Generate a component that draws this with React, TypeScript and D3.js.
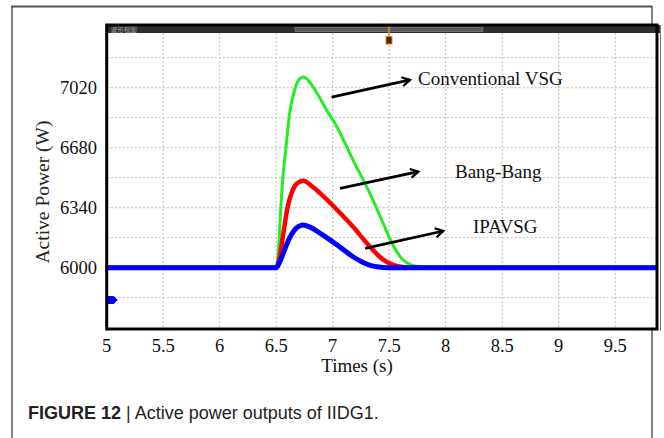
import * as d3 from "d3";

// data
const GREEN_T = [5.0, 6.4, 6.5, 6.52, 6.54, 6.56, 6.58, 6.62, 6.66, 6.7, 6.74, 6.78, 6.86, 6.94, 7.04, 7.18, 7.33, 7.46, 7.54, 7.62, 7.7, 7.8, 7.9, 9.87];
const GREEN_P = [6000, 6000, 6000, 6100, 6330, 6520, 6640, 6880, 7000, 7065, 7080, 7065, 6990, 6900, 6795, 6610, 6420, 6232, 6120, 6045, 6015, 6004, 6000, 6000];

const RED_T = [5.0, 6.4, 6.5, 6.53, 6.56, 6.6, 6.64, 6.68, 6.74, 6.8, 6.89, 7.04, 7.18, 7.33, 7.45, 7.54, 7.62, 7.7, 9.87];
const RED_P = [6000, 6000, 6000, 6060, 6180, 6340, 6430, 6475, 6493, 6470, 6421, 6327, 6232, 6119, 6044, 6015, 6004, 6000, 6000];

const BLUE_T = [5.0, 6.4, 6.5, 6.53, 6.56, 6.62, 6.68, 6.74, 6.8, 6.89, 7.04, 7.18, 7.3, 7.39, 7.5, 9.87];
const BLUE_P = [6000, 6000, 6000, 6030, 6078, 6170, 6225, 6242, 6230, 6195, 6129, 6062, 6021, 6005, 6000, 6000];

const X_TICKS = [5, 5.5, 6, 6.5, 7, 7.5, 8, 8.5, 9, 9.5];
const Y_TICKS = [6000, 6340, 6680, 7020];
const Y_GRID = [5830, 6000, 6170, 6340, 6510, 6680, 6850, 7020, 7190];

const LABELS = ["Conventional VSG", "Bang-Bang", "IPAVSG"];
// arrow start, arrow end, label anchor (t, P)
const ARROW_FROM = [[6.99, 6966], [7.065, 6450], [7.286, 6110]];
const ARROW_TO = [[7.684, 7064], [7.758, 6544], [7.979, 6208]];
const LABEL_AT = [[7.755, 7035], [8.082, 6511], [8.242, 6197]];

const W = 664;
const H = 438;
const left = 106.7, right = 657, top = 33, bottom = 329;

export default function App() {
    const x = d3.scaleLinear().domain([5, 5 + (right - left) / 113]).range([left, right]);
    const y = d3.scaleLinear().domain([6000, 7020]).range([267.7, 87.7]);

    const line = d3.line<number[]>()
        .x(d => x(d[0]))
        .y(d => y(d[1]))
        .curve(d3.curveMonotoneX);

    const zip = (ts: number[], ps: number[]) => ts.map((t, i) => [t, ps[i]]);

    const serif = "'Liberation Serif', 'Times New Roman', serif";
    const sans = "'Liberation Sans', Arial, sans-serif";

    const xGrid = d3.range(5.5, 9.9, 0.5);
    const markerY = y(5817);

    return (
        <svg width={W} height={H} style={{ position: "absolute", left: 0, top: 0, background: "#fff" }}>
            <defs>
                <clipPath id="plot">
                    <rect x={left} y={top} width={right - left} height={bottom - top} />
                </clipPath>
                <marker id="arr" viewBox="0 0 10 10" refX="8" refY="5" markerWidth="4" markerHeight="4" orient="auto" markerUnits="strokeWidth">
                    <path d="M1,1 L8,5 L1,9" fill="none" stroke="#000" strokeWidth="2" />
                </marker>
            </defs>

            {/* outer figure frame */}
            <line x1={11.5} y1={6.5} x2={652} y2={6.5} stroke="#555" strokeWidth={2} />
            <line x1={12} y1={6} x2={12} y2={H} stroke="#333" strokeWidth={1.2} />
            <line x1={652} y1={6} x2={652} y2={H} stroke="#333" strokeWidth={1.2} />

            {/* plot background */}
            <rect x={left} y={25} width={right - left} height={bottom - 25} fill="#fff" />

            {/* grid */}
            <g stroke="#bdbdbd" strokeWidth={1} strokeDasharray="2,2">
                {xGrid.map(t => (
                    <line key={`gx${t}`} x1={x(t)} x2={x(t)} y1={top} y2={bottom} />
                ))}
                {Y_GRID.map(v => (
                    <line key={`gy${v}`} x1={left} x2={right} y1={y(v)} y2={y(v)} />
                ))}
            </g>

            {/* curves */}
            <g clipPath="url(#plot)" fill="none" strokeLinejoin="round" strokeLinecap="round">
                <path d={line(zip(GREEN_T, GREEN_P)) || ""} stroke="#22ee22" strokeWidth={3} />
                <path d={line(zip(RED_T, RED_P)) || ""} stroke="#ff0000" strokeWidth={4.5} />
                <path d={line(zip(BLUE_T, BLUE_P)) || ""} stroke="#0000ff" strokeWidth={5} />
            </g>

            {/* small blue marker on left */}
            <path
                d={`M${left},${markerY - 4} L${left + 7},${markerY - 4} L${left + 11},${markerY} L${left + 7},${markerY + 4} L${left},${markerY + 4} Z`}
                fill="#0000ff"
            />

            {/* header bar */}
            <rect x={left} y={25} width={right - left + 3} height={8} fill="#2e2e2c" />
            <text x={left + 4} y={31.5} fontSize={6.5} fill="#aaa" fontFamily="'Noto Sans CJK SC', sans-serif">波形视图</text>
            <rect x={295} y={27.5} width={188} height={4} fill="#5a5a56" stroke="#888" strokeWidth={0.6} />
            <line x1={389} x2={389} y1={25} y2={38} stroke="#e08a1a" strokeWidth={1.5} />
            <rect x={386} y={36.5} width={6} height={7.5} fill="#3a2a10" stroke="#e08a1a" strokeWidth={1} />

            {/* plot frame */}
            <rect x={left} y={25} width={right - left} height={bottom - 25} fill="none" stroke="#000" strokeWidth={3} />
            <line x1={660.5} x2={660.5} y1={25} y2={bottom + 2} stroke="#777" strokeWidth={1} />

            {/* y ticks */}
            {Y_TICKS.map(v => (
                <text key={`yt${v}`} x={97} y={y(v)} dy="0.34em" textAnchor="end" fontSize={18.5} fontFamily={serif} fill="#111">
                    {v}
                </text>
            ))}
            {/* x ticks */}
            {X_TICKS.map(t => (
                <text key={`xt${t}`} x={x(t)} y={352} textAnchor="middle" fontSize={18.5} fontFamily={serif} fill="#111">
                    {String(t)}
                </text>
            ))}

            <text x={357} y={372} textAnchor="middle" fontSize={19} fontFamily={serif} fill="#111">Times (s)</text>
            <text transform={`translate(49,${192}) rotate(-90)`} textAnchor="middle" fontSize={19.5} fontFamily={serif} fill="#222">
                Active Power (W)
            </text>

            {/* annotations */}
            {LABELS.map((lab, i) => (
                <g key={lab}>
                    <line
                        x1={x(ARROW_FROM[i][0])} y1={y(ARROW_FROM[i][1])}
                        x2={x(ARROW_TO[i][0])} y2={y(ARROW_TO[i][1])}
                        stroke="#000" strokeWidth={2.8} markerEnd="url(#arr)"
                    />
                    <text x={x(LABEL_AT[i][0])} y={y(LABEL_AT[i][1])} fontSize={19} fontFamily={serif} fill="#111">
                        {lab}
                    </text>
                </g>
            ))}

            {/* caption */}
            <text x={28} y={419} fontSize={18} fontFamily={sans} fill="#222">
                <tspan fontWeight="bold">FIGURE 12</tspan>
                <tspan> | Active power outputs of IIDG1.</tspan>
            </text>
        </svg>
    );
}
